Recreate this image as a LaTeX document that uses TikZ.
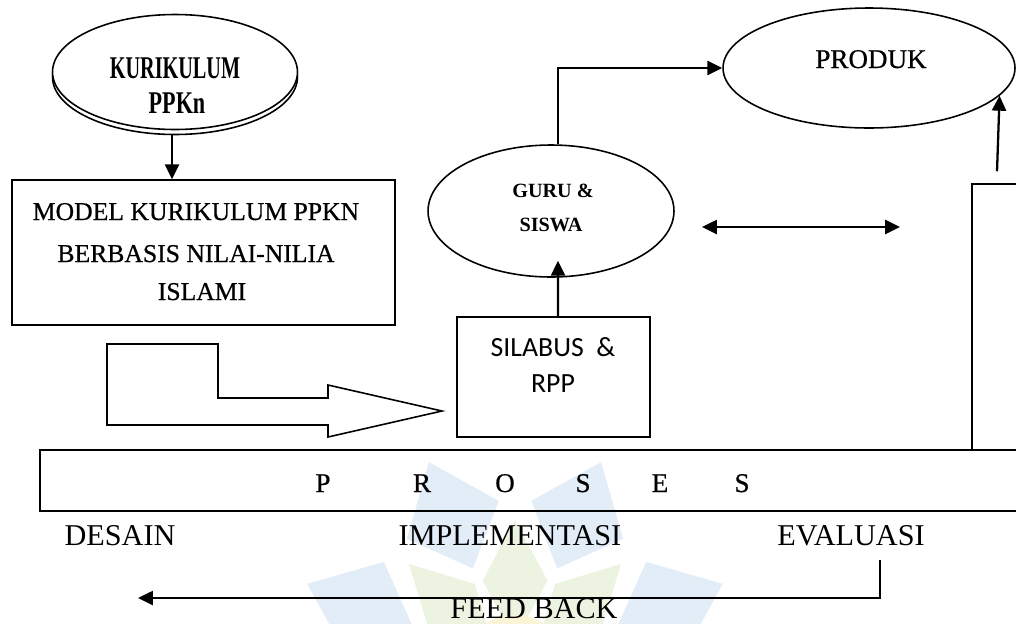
\documentclass[tikz,border=0pt]{standalone}
\usepackage{fontspec}
\usepackage{graphicx}
\setmainfont{Liberation Serif}
\newfontfamily\carlitofont{Carlito}
\newfontfamily\decofont[FakeBold=0.6]{Liberation Serif}
\usetikzlibrary{arrows.meta,shapes.geometric}
\definecolor{wmblue}{RGB}{226,237,248}
\definecolor{wmgreen}{RGB}{236,243,225}
\definecolor{wmyellow}{RGB}{252,244,215}
\begin{document}
\begin{tikzpicture}[x=0.02cm,y=-0.02cm,line width=0.9pt,
  lbl/.style={inner sep=0pt,anchor=base},
  tip/.style={-{Triangle[length=8.5pt,width=8pt]},line width=1.3pt},
  dtip/.style={{Triangle[length=8.5pt,width=8pt]}-{Triangle[length=8.5pt,width=8pt]},line width=1.3pt},
  box/.style={draw,rectangle,inner sep=0pt,line width=0.9pt},
  ell/.style={draw,ellipse,inner sep=0pt,line width=0.9pt},
  deco/.style={font=\decofont\fontsize{14.6}{17}\selectfont},
  procfont/.style={font=\decofont\fontsize{15.4}{18}\selectfont},
  plain/.style={font=\fontsize{17.2}{20}\selectfont},
  gurufont/.style={font=\bfseries\fontsize{11.5}{13}\selectfont},
  silfont/.style={font=\carlitofont\fontsize{15.8}{18}\selectfont},
]
\useasboundingbox (0,0) rectangle (1016,623);

% faint watermark logo
\begin{scope}[shift={(515,670)}]
  \foreach \a in {22.5,67.5,...,337.5} {
    \fill[wmblue] (\a:110) -- (\a-17:170) -- (\a:225) -- (\a+17:170) -- cycle;
  }
  \foreach \a in {0,45,...,315} {
    \fill[wmgreen] (\a:30) -- (\a-20:95) -- (\a:150) -- (\a+20:95) -- cycle;
  }
  \fill[wmyellow] (0,0) circle [radius=1.1cm];
\end{scope}

% KURIKULUM PPKn (3D ellipse)
\node[ell,fill=white,minimum width=4.9cm,minimum height=2.3cm] (kurs) at (175,77) {};
\node[ell,fill=white,minimum width=4.9cm,minimum height=2.3cm] (kur) at (175,72) {};
\node[lbl] (kurt1) at (175,78) {\fontsize{18}{20}\bfseries\selectfont\scalebox{0.64}[1]{KURIKULUM}};
\node[lbl] (kurt2) at (177,113) {\fontsize{18}{20}\bfseries\selectfont\scalebox{0.7}[1]{PPKn}};

% MODEL box
\node[box,minimum width=7.66cm,minimum height=2.9cm] (model) at (203.5,252.5) {};
\node[lbl,deco] (m1) at (196,220) {MODEL KURIKULUM PPKN};
\node[lbl,deco] (m2) at (196,262) {BERBASIS NILAI-NILIA};
\node[lbl,deco] (m3) at (202,300) {ISLAMI};
\draw[tip] ([xshift=-0.06cm]kurs.south) -- ([xshift=-0.06cm]kurs.south |- model.north);

% block arrow
\draw[line width=0.9pt] (107,344) -- (218,344) -- (218,398) -- (328,398) -- (328,385)
  -- (442,411) -- (328,437) -- (328,425) -- (107,425) -- cycle;

% SILABUS & RPP
\node[box,minimum width=3.86cm,minimum height=2.4cm] (sil) at (553.5,377) {};
\node[lbl,silfont] (silt1) at (553,356) {SILABUS\ \ \&};
\node[lbl,silfont] (silt2) at (553,392) {RPP};

% GURU & SISWA
\node[ell,minimum width=4.92cm,minimum height=2.64cm] (guru) at (551,211) {};
\node[lbl,gurufont] (gurut1) at (553,197) {GURU \&};
\node[lbl,gurufont] (gurut2) at (551,231) {SISWA};
\draw[tip] ([xshift=0.09cm]sil.north) -- ([xshift=0.14cm,yshift=0.34cm]guru.south);

% PRODUK
\node[ell,minimum width=5.84cm,minimum height=2.4cm] (prod) at (869,68) {};
\node[lbl,procfont] (prodt) at (871,68) {PRODUK};
\draw[tip] ([xshift=0.14cm]guru.north) |- (prod.west);

% double arrow
\coordinate (dl) at (702,227);
\coordinate (dr) at (900,227);
\draw[dtip] (dl) -- (dr);

% right box (cut by the page edge)
\node[box,minimum width=1.36cm,minimum height=5.32cm] (rbox) at (1006,317) {};
\draw[tip] ([xshift=-0.18cm,yshift=0.24cm]rbox.north) -- (prod.-12);

% PROSES bar
\node[box,minimum width=20cm,minimum height=1.22cm] (proses) at (540,480.5) {};
\node[lbl,procfont] (p1) at (323,492) {P};
\node[lbl,procfont] (p2) at (422,492) {R};
\node[lbl,procfont] (p3) at (505,492) {O};
\node[lbl,procfont] (p4) at (583,492) {S};
\node[lbl,procfont] (p5) at (660,492) {E};
\node[lbl,procfont] (p6) at (742,492) {S};

% stage labels
\node[lbl,plain] (desain) at (120,545) {DESAIN};
\node[lbl,plain] (impl) at (510,545) {IMPLEMENTASI};
\node[lbl,plain] (eval) at (851,545) {EVALUASI};
\node[lbl,plain] (fb) at (534,618) {FEED BACK};

% feedback connector
\coordinate (fbend) at (138,598);
\draw[tip] ([xshift=0.58cm,yshift=-0.3cm]eval.base) |- (fbend);
\end{tikzpicture}
\end{document}
